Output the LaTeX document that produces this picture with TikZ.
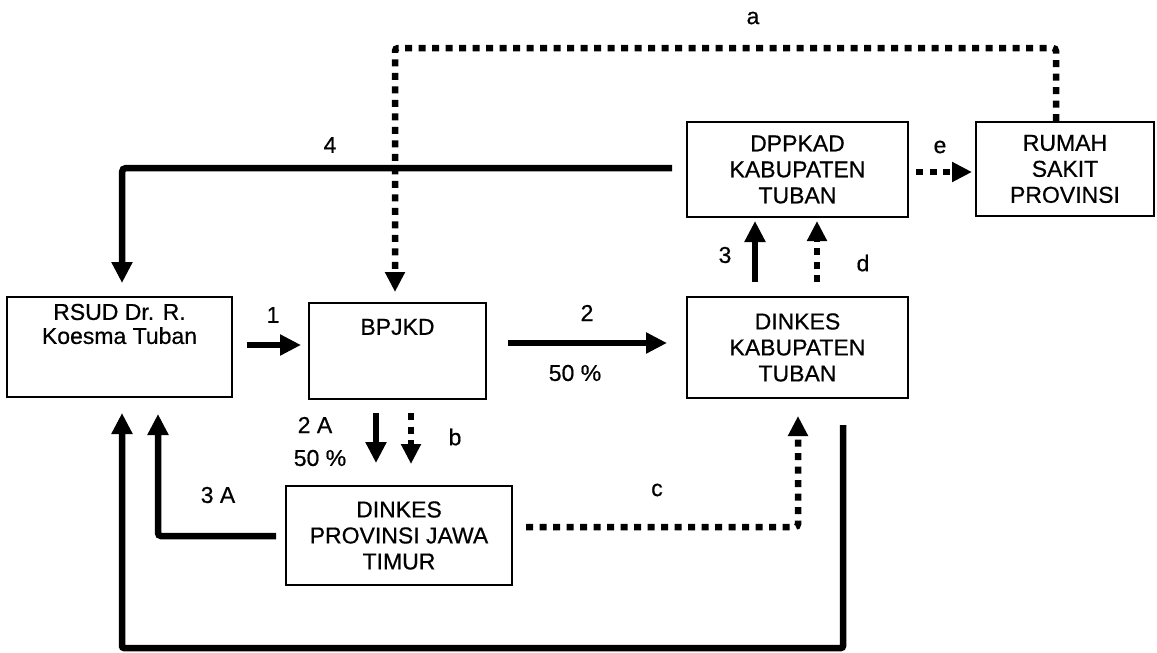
\documentclass[tikz,border=0pt]{standalone}
\usepackage{fontspec}
\setmainfont{Liberation Sans}[FakeBold=0.6]
\usetikzlibrary{arrows.meta,calc}
\begin{document}
\begin{tikzpicture}[x=1pt,y=-1pt,
  box/.style={draw, line width=2pt, inner sep=0pt, align=center,
    font=\fontsize{23}{26}\selectfont},
  txt/.style={inner sep=0pt, align=center, font=\fontsize{23}{24}\selectfont},
  lbl/.style={inner sep=0pt, font=\fontsize{23}{26}\selectfont},
  arr/.style={line width=6.5pt, -{Triangle[length=21pt,width=20pt]}},
  dotarr/.style={line width=6.5pt, line cap=butt, dash pattern=on 7pt off 6.5pt,
    -{Triangle[length=20pt,width=19pt]}},
  ]
\useasboundingbox (0,0) rectangle (1157,653);
% boxes
\node[box, minimum width=225pt, minimum height=100pt] (rsud) at (119.5,347) {};
\node[txt] (rsudtxt) at (119.5,324) {RSUD Dr. R.\\Koesma Tuban};
\node[box, minimum width=177pt, minimum height=96pt] (bpjkd) at (397.5,351) {};
\node[txt] (bpjkdtxt) at (397.5,327) {BPJKD};
\node[box, minimum width=221pt, minimum height=95pt] (dppkad) at (797.5,169.5) {DPPKAD\\KABUPATEN\\TUBAN};
\node[box, minimum width=178pt, minimum height=94pt] (rumah) at (1065,169) {RUMAH\\SAKIT\\PROVINSI};
\node[box, minimum width=221pt, minimum height=101pt] (dinkab) at (797.5,347.5) {DINKES\\KABUPATEN\\TUBAN};
\node[box, minimum width=226pt, minimum height=99pt] (dinprov) at (399,535.5) {DINKES\\PROVINSI JAWA\\TIMUR};
% bend points
\coordinate (aleft) at (395,48);
\coordinate (c4) at (122,168);
\coordinate (c3a) at (158,536);
\coordinate (cc) at (798,527);
\coordinate (bl) at (122,648);
\coordinate (br) at (843,648);
% connectors
\draw[arr, shorten <=14pt, shorten >=7pt] ($(rsud.east)+(0,-2)$) -- ($(rsud.east -| bpjkd.west)+(0,-2)$);
\draw[arr, shorten <=21pt, shorten >=19pt] ($(bpjkd.east)+(0,-8)$) -- ($(bpjkd.east -| dinkab.west)+(0,-8)$);
\draw[arr, shorten <=13pt, shorten >=22pt] ($(bpjkd.south)+(-21.5,0)$) -- ($(bpjkd.south |- dinprov.north)+(-21.5,0)$);
\draw[dotarr, shorten <=13pt, shorten >=21pt] ($(bpjkd.south)+(13.5,0)$) -- ($(bpjkd.south |- dinprov.north)+(13.5,0)$);
\draw[arr, shorten <=14pt, shorten >=3pt] ($(dinkab.north)+(-42.5,0)$) -- ($(dinkab.north |- dppkad.south)+(-42.5,0)$);
\draw[dotarr, shorten <=14pt, shorten >=3pt] ($(dinkab.north)+(19.5,0)$) -- ($(dinkab.north |- dppkad.south)+(19.5,0)$);
\draw[dotarr, shorten <=7pt, shorten >=3pt] ($(dppkad.east)+(0,2.5)$) -- ($(dppkad.east -| rumah.west)+(0,2.5)$);
\draw[dotarr, rounded corners=3pt, shorten >=10pt] ($(rumah.north)+(-9,0)$) |- (aleft) -- (aleft |- bpjkd.north);
\draw[arr, rounded corners=4pt, shorten <=14pt, shorten >=13pt] (dppkad.west |- c4) -- (c4) -- (c4 |- rsud.north);
\draw[arr, rounded corners=3pt, shorten <=9pt, shorten >=16pt] (dinprov.west |- c3a) -- (c3a) -- (c3a |- rsud.south);
\draw[dotarr, rounded corners=3pt, shorten <=13pt, shorten >=17pt] (dinprov.east |- cc) -- (cc) -- (cc |- dinkab.south);
\draw[arr, rounded corners=2pt, shorten <=26pt, shorten >=15pt] (br |- dinkab.south) -- (br) -- (bl) -- (bl |- rsud.south);
% labels
\node[lbl] (la) at (753,18) {a};
\node[lbl] (l4) at (330,145) {4};
\node[lbl] (le) at (940,147) {e};
\node[lbl] (l3) at (725,255) {3};
\node[lbl] (ld) at (863,263) {d};
\node[lbl] (l1) at (273,315) {1};
\node[lbl] (l2) at (587,313) {2};
\node[lbl] (l50a) at (575,373) {50 \%};
\node[lbl] (l2a) at (315,425) {2 A};
\node[lbl] (l50b) at (320,458) {50 \%};
\node[lbl] (lb) at (455,437) {b};
\node[lbl] (l3a) at (218,495) {3 A};
\node[lbl] (lc) at (657,490) {c};
\end{tikzpicture}
\end{document}
